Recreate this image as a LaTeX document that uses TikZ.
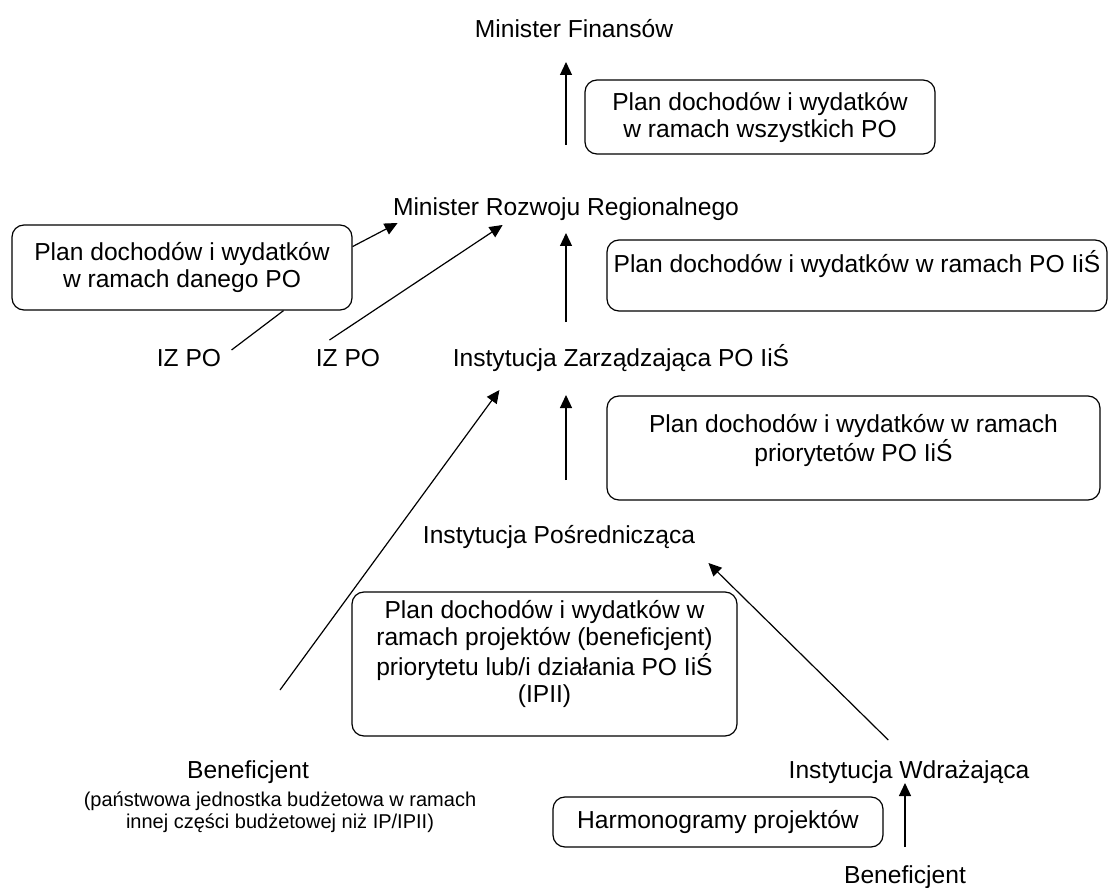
\documentclass[tikz,border=0pt]{standalone}
\usepackage{fontspec}
\setmainfont{Liberation Sans}
\usetikzlibrary{arrows.meta}

\begin{document}
\begin{tikzpicture}[x=0.5pt,y=-0.5pt,
    every node/.style={inner sep=0,font=\fontsize{12.3}{13.5}\selectfont},
    lbl/.style={anchor=base},
    plan/.style={draw,rounded corners=6pt,align=center,line width=0.6pt},
    arr/.style={-{Triangle[length=6.5pt,width=6pt]},line width=0.6pt}]
  \useasboundingbox (0,0) rectangle (1110,888);
  \node[lbl] (mf) at (574,38) {Minister Finansów};
  \node[lbl] (mrr) at (566,216) {Minister Rozwoju Regionalnego};
  \node[lbl] (iz1) at (189,366) {IZ PO};
  \node[lbl] (iz2) at (348,366) {IZ PO};
  \node[lbl] (iz) at (621,366) {Instytucja Zarządzająca PO IiŚ};
  \node[lbl] (ip) at (559,543) {Instytucja Pośrednicząca};
  \node[lbl] (ben1) at (248,778) {Beneficjent};
  \node[anchor=north,align=center,font=\fontsize{10}{11}\selectfont] (ben1n) at (280,791)
    {(państwowa jednostka budżetowa w ramach\\ innej części budżetowej niż IP/IPII)};
  \node[lbl] (iw) at (909,778) {Instytucja Wdrażająca};
  \node[lbl] (ben2) at (905,883) {Beneficjent};
  \node[plan,minimum width=175pt,minimum height=37pt] (pa) at (760,117)
    {Plan dochodów i wydatków\\ w ramach wszystkich PO};
  \node[plan,minimum width=170pt,minimum height=42.5pt] (pb) at (182,267.5)
    {Plan dochodów i wydatków\\ w ramach danego PO};
  \node[plan,minimum width=250pt,minimum height=35.5pt,text depth=14pt] (pc) at (857,275.5)
    {Plan dochodów i wydatków w ramach PO IiŚ};
  \node[plan,minimum width=246.5pt,minimum height=52pt,text depth=10pt] (pd) at (853.5,448)
    {Plan dochodów i wydatków w ramach\\ priorytetów PO IiŚ};
  \node[plan,minimum width=192.5pt,minimum height=72pt,text depth=12.6pt] (pe) at (544.5,664)
    {Plan dochodów i wydatków w\\ ramach projektów (beneficjent)\\ priorytetu lub/i działania PO IiŚ\\ (IPII)};
  \node[plan,minimum width=165pt,minimum height=25pt] (pf) at (718,822)
    {Harmonogramy projektów};
  \draw[arr] ([yshift=35.5pt]mrr.base) -- ([yshift=-12pt]mf.base -| mrr.base);
  \draw[arr] ([yshift=22pt]iz.base -| mrr.base) -- ([yshift=-8.5pt]mrr.base);
  \draw[arr] ([yshift=31.5pt]ip.base -| mrr.base) -- ([yshift=-14.5pt]iz.base -| mrr.base);
  \draw[line width=0.6pt] ([xshift=5pt,yshift=8pt]iz1.base east) -- (pb.337);
  \draw[arr] (pb.7) -- ([xshift=2.5pt,yshift=-3.5pt]mrr.base west);
  \draw[arr] ([xshift=7pt,yshift=13pt]iz2.base west) -- ([xshift=55pt,yshift=-4.5pt]mrr.base west);
  \draw[arr] ([xshift=16pt,yshift=44pt]ben1.base) -- ([xshift=23.5pt,yshift=-12pt]iz.base west);
  \draw[arr] ([xshift=50pt,yshift=19pt]iw.base west) -- ([xshift=6.5pt,yshift=-10pt]ip.base east);
  \draw[arr] ([yshift=18pt]ben2.base) -- ([yshift=-2.5pt]iw.base -| ben2.base);
\end{tikzpicture}
\end{document}
